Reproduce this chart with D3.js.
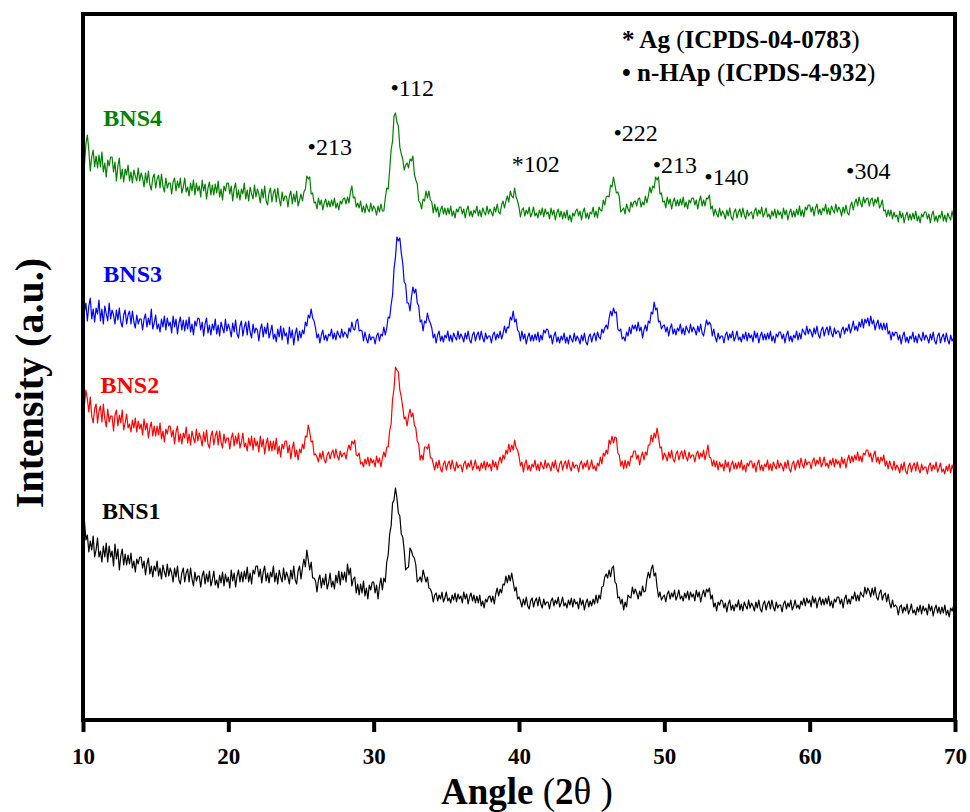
<!DOCTYPE html>
<html>
<head>
<meta charset="utf-8">
<script src="https://cdn.jsdelivr.net/npm/d3@7"></script>
<style>
  html, body { margin: 0; padding: 0; background: #fff; }
  svg { display: block; font-family: "Liberation Serif", "Times New Roman", serif; }
</style>
</head>
<body>
<svg id="chart" width="970" height="812"></svg>
<script>
// ---------- data (one row = one degree, 0.1° steps) ----------
const angleStart = 10, angleStep = 0.1, nPoints = 601;
const angles = d3.range(nPoints).map(i => +(angleStart + i * angleStep).toFixed(1));

const xTicks = [10, 20, 30, 40, 50, 60, 70];
const seriesNames = ["BNS1", "BNS2", "BNS3", "BNS4"];
const seriesColors = ["#000000", "#ff0000", "#0000ff", "#008000"];

const bns4 = [
570,555,576,585,570,549,563,570,553,564,
552,565,553,568,548,557,543,560,554,563,
563,548,558,539,554,562,541,551,538,551,
545,555,539,548,537,550,544,539,552,539,
547,542,533,547,537,549,535,530,542,546,
532,541,545,532,546,534,528,542,532,537,
537,526,538,542,529,539,532,542,527,533,
542,528,533,524,537,529,540,525,537,529,
534,523,540,529,536,521,532,538,525,535,
525,536,527,539,523,531,520,534,529,537,
537,526,534,519,531,537,522,530,520,531,
526,537,521,530,519,533,526,521,535,523,
531,526,517,531,522,534,519,515,527,532,
518,527,531,518,532,521,514,528,519,524,
524,513,524,529,516,526,518,529,514,520,
526,519,528,531,544,541,543,526,527,517,
518,511,522,515,520,510,517,521,513,519,
513,520,514,522,512,517,510,519,516,521,
522,516,523,517,528,534,522,523,513,517,
512,519,508,514,507,516,511,508,517,509,
514,511,505,514,508,516,509,509,522,532,
531,550,570,579,604,607,598,594,573,566,
561,550,555,557,552,561,559,564,546,540,
536,519,517,511,521,519,529,522,529,520,
518,507,516,508,513,503,510,514,506,512,
505,512,506,514,504,509,502,511,508,513,
513,506,511,502,510,514,504,509,503,510,
507,514,504,510,503,512,508,505,514,506,
511,508,504,513,508,516,508,506,515,519,
512,519,524,518,529,524,522,532,523,519,
513,503,510,512,504,510,506,513,503,507,
513,504,507,502,510,505,512,503,511,506,
508,501,512,505,510,500,507,511,503,509,
501,508,502,510,500,505,498,507,504,509,
511,504,509,500,508,512,502,507,501,508,
506,513,503,509,502,513,510,509,520,515,
523,524,523,535,533,543,535,527,528,523,
508,510,512,506,516,511,508,518,513,518,
519,514,521,522,513,518,515,524,517,524,
533,527,534,532,543,540,543,526,527,518,
519,512,523,516,521,511,518,522,514,520,
514,521,515,523,513,518,511,520,517,522,
522,515,520,511,519,524,514,520,514,522,
521,525,511,514,504,511,506,503,512,504,
509,506,501,510,504,512,503,500,508,511,
502,508,511,503,512,505,501,510,504,507,
508,501,509,512,504,510,506,513,503,507,
512,503,506,501,509,504,511,502,510,505,
508,501,512,505,510,500,507,511,503,509,
503,511,505,514,504,510,503,513,510,515,
515,508,513,504,512,516,506,511,505,512,
509,516,506,512,505,514,510,507,516,508,
513,510,504,513,507,515,507,505,514,518,
510,517,521,514,523,517,513,523,517,521,
522,514,520,522,514,521,517,523,512,515,
520,509,510,503,510,504,510,501,508,503,
505,498,509,502,507,497,504,508,500,506,
500,507,501,509,499,504,497,506,503,508,
508,501,506,497,505,509,499,504,498,505,
502,509,499,505,498,507,503,500,509,501,
504];

const bns3 = [
422,408,417,399,414,422,401,411,398,412,
406,420,399,411,396,414,406,399,417,401,
410,405,396,410,400,412,398,393,405,410,
396,405,409,396,409,398,392,405,396,401,
401,390,401,406,393,402,395,411,391,397,
405,391,396,388,401,393,404,390,402,394,
398,387,404,393,401,386,397,403,390,400,
389,400,391,403,388,396,385,399,394,402,
401,390,398,384,396,402,387,395,385,396,
390,401,386,395,384,398,392,387,401,389,
396,391,383,397,388,400,386,382,394,399,
384,393,398,385,399,388,382,396,387,392,
390,379,391,396,383,393,386,397,382,388,
395,381,386,378,391,383,394,380,392,384,
387,376,393,382,390,375,386,392,379,389,
382,390,386,398,394,405,402,411,402,399,
392,382,386,377,385,390,380,385,379,386,
384,391,381,387,380,389,385,382,391,383,
388,386,382,392,388,398,391,390,399,401,
389,390,389,379,388,381,377,386,380,383,
383,376,384,387,379,386,384,393,385,392,
403,402,415,425,451,463,483,479,482,467,
457,438,436,417,417,409,423,433,427,431,
417,414,398,400,389,399,397,407,400,397,
392,382,386,377,385,389,379,384,378,385,
382,389,379,385,378,387,383,380,389,381,
386,383,378,387,381,389,380,377,385,388,
379,385,388,380,389,382,378,387,381,384,
384,377,385,388,380,386,382,389,381,386,
394,387,393,392,403,400,409,398,401,390,
388,379,389,381,386,376,383,387,379,385,
379,386,380,388,378,385,380,390,387,391,
390,382,385,376,384,388,378,383,377,384,
380,387,377,383,376,385,381,378,387,379,
384,381,376,385,379,387,378,375,383,386,
378,384,387,379,388,383,381,391,387,392,
395,391,402,409,404,412,407,408,391,389,
391,381,383,379,388,384,393,386,395,391,
395,389,398,389,393,382,390,395,389,399,
397,408,406,418,410,412,398,399,391,394,
395,388,393,384,392,396,386,391,385,392,
389,396,386,392,385,394,390,387,396,388,
393,390,385,394,388,396,387,384,392,400,
395,398,395,384,391,383,378,387,381,384,
384,377,385,388,380,386,382,389,379,383,
389,380,383,378,386,381,388,379,387,382,
385,378,389,382,387,377,384,388,380,386,
380,387,381,389,379,384,377,386,383,388,
388,381,386,377,385,389,379,384,378,385,
382,389,380,387,381,391,388,385,394,386,
391,388,383,392,386,394,385,382,390,393,
384,390,393,385,394,387,383,392,386,389,
389,382,390,393,386,392,389,396,387,392,
399,390,394,389,398,393,401,392,401,397,
402,394,404,396,400,390,396,400,391,397,
390,397,390,397,386,389,380,388,384,388,
387,380,385,376,384,388,378,383,377,384,
381,388,378,384,377,386,382,379,388,380,
385,382,377,386,380,388,379,376,384,387,
377,383,386,378,387,380,376,385,379,382,
380];

const bns2 = [
322,315,330,321,308,323,304,297,311,316,
297,309,314,298,316,301,293,311,298,304,
304,289,305,310,294,305,297,310,290,297,
306,292,296,288,300,292,302,288,299,291,
296,285,301,290,297,282,292,298,284,294,
284,294,285,297,281,289,278,291,286,294,
294,283,290,276,288,294,278,286,276,287,
282,293,277,286,275,289,282,277,291,279,
287,282,274,288,278,290,276,272,284,289,
275,284,289,275,289,278,272,286,277,282,
282,271,282,287,274,284,276,287,272,278,
287,273,277,269,282,274,284,270,282,274,
279,268,284,273,281,266,276,282,269,279,
269,279,270,282,266,274,263,276,271,279,
279,267,275,261,272,278,263,270,260,271,
267,276,271,284,283,295,288,278,279,265,
266,263,258,267,261,269,260,257,265,268,
261,267,270,262,271,264,260,269,263,266,
267,261,270,275,270,279,276,280,265,264,
267,256,258,253,261,256,263,254,262,257,
260,253,264,257,262,253,262,268,263,273,
273,289,296,321,331,353,350,348,330,323,
313,301,303,294,304,311,303,307,295,292,
279,276,260,265,260,273,273,271,276,262,
262,256,250,258,252,260,251,248,256,259,
250,256,259,251,260,253,249,258,252,255,
255,248,256,259,251,257,253,260,250,254,
260,251,254,249,257,252,259,250,258,253,
256,249,260,253,258,250,258,263,257,265,
261,270,266,276,268,275,270,280,272,270,
264,254,258,248,256,260,250,255,249,256,
253,260,250,256,249,258,254,251,260,252,
257,254,249,258,252,260,251,248,256,259,
250,256,259,251,260,253,249,258,252,255,
255,248,256,259,251,257,253,260,250,254,
260,251,254,249,257,254,263,256,267,264,
270,266,280,276,284,277,283,282,267,265,
254,259,251,260,252,259,254,264,263,269,
269,261,265,255,263,268,260,268,265,275,
275,285,278,287,282,292,283,272,273,260,
267,264,259,268,262,270,261,258,266,269,
260,266,269,261,270,263,259,268,262,265,
265,258,266,269,261,267,263,270,260,267,
275,263,262,254,260,253,259,250,258,253,
256,249,260,253,258,248,255,259,251,257,
251,258,252,260,250,255,248,257,254,259,
259,252,257,248,256,260,250,255,249,256,
253,260,250,256,249,258,254,251,260,252,
257,254,249,258,252,260,251,248,256,259,
250,256,260,252,262,255,252,261,255,258,
258,251,259,262,254,260,256,263,253,257,
263,254,257,252,260,255,262,253,261,256,
259,252,263,256,261,252,260,265,257,264,
258,265,260,268,259,264,258,267,265,270,
270,263,267,258,265,269,258,263,256,263,
259,265,254,259,251,259,254,250,259,250,
255,252,247,256,250,258,249,246,254,257,
248,254,257,249,258,251,247,256,250,253,
253,246,254,257,249,255,251,258,248,252,
257,248,251,246,254,249,256,247,255,250,
250];

const bns1 = [
180,199,180,185,168,179,170,184,163,170,
182,163,169,158,174,163,177,158,174,163,
169,154,176,161,171,150,164,171,155,166,
155,165,156,167,152,159,148,161,156,163,
163,152,159,145,156,162,146,154,143,154,
149,159,144,152,141,155,148,143,156,144,
152,147,138,152,143,154,140,136,147,152,
138,147,151,138,152,141,134,148,139,144,
144,133,144,149,136,146,138,149,134,140,
149,135,140,132,145,137,148,134,146,138,
143,132,150,139,147,133,144,150,138,148,
138,149,141,153,138,147,136,150,146,154,
154,143,151,137,148,154,139,147,137,148,
143,154,138,147,136,150,143,138,152,140,
148,143,136,150,141,154,140,136,149,154,
141,152,161,153,170,160,150,158,142,142,
139,128,140,145,132,142,135,146,131,137,
147,133,139,131,145,137,149,135,148,140,
148,138,156,145,152,134,141,143,127,136,
125,136,127,139,124,132,121,135,130,138,
138,127,135,121,134,142,130,142,138,158,
165,186,194,217,220,232,222,207,204,186,
183,170,150,152,153,172,169,164,162,155,
138,140,143,138,150,144,138,143,132,131,
127,118,125,127,119,125,121,128,118,122,
128,119,122,117,125,120,127,118,126,121,
124,117,128,121,126,116,123,127,119,125,
117,124,117,125,114,119,112,121,118,123,
124,118,124,116,126,132,124,131,127,136,
135,144,137,145,139,147,138,129,133,121,
123,119,113,121,115,123,114,111,119,122,
113,119,122,114,123,116,112,121,115,118,
118,111,119,122,114,120,116,123,113,117,
123,114,117,112,120,115,122,113,121,116,
118,111,122,115,120,110,117,121,113,119,
114,121,116,125,117,125,121,133,134,143,
146,142,150,143,152,154,138,136,122,123,
116,121,110,118,113,125,123,122,133,126,
131,127,121,129,124,134,128,129,141,148,
142,151,155,144,147,133,123,128,120,123,
125,118,126,129,121,127,123,130,120,124,
130,121,124,119,127,122,129,120,128,123,
126,119,130,123,128,118,125,130,123,131,
128,132,121,125,113,117,109,118,115,120,
119,112,117,108,116,120,110,115,109,116,
113,120,110,116,109,118,114,111,120,112,
117,114,109,118,112,120,111,108,116,119,
110,116,119,111,120,113,109,118,112,115,
115,108,116,119,111,117,113,120,110,114,
120,112,115,111,119,115,122,114,122,117,
120,113,124,117,122,112,119,123,115,121,
115,122,116,124,114,119,112,121,118,123,
123,116,121,112,121,125,116,121,116,124,
121,128,119,125,119,128,125,123,133,126,
132,129,123,132,125,133,123,120,127,130,
120,125,127,118,126,117,112,120,113,115,
113,105,113,115,107,113,109,116,106,110,
116,107,110,105,113,108,115,106,114,109,
112,105,116,109,114,104,111,115,107,113,
106,113,107,115,105,110,103,112,109,114,
108];

const seriesValues = [bns1, bns2, bns3, bns4];
// label anchor (angle, intensity) for each series name
const seriesLabelAngles = [11.3, 11.2, 11.4, 11.4];
const seriesLabelLevels = [201, 327, 438, 594];

// peak annotations
const peakLabels  = ["\u2022213", "\u2022112", "*102", "\u2022222", "\u2022213", "\u2022140", "\u2022304"];
const peakAngles  = [25.45, 31.15, 39.5, 46.5, 49.2, 52.75, 62.5];
const peakLevels  = [565, 624, 548, 579, 547, 535, 541];

// ---------- drawing ----------
const svg = d3.select("#chart");
const margin = { left: 83, right: 955, top: 14, bottom: 720 };

const x = d3.scaleLinear().domain([10, 70]).range([margin.left, margin.right]);
const y = d3.scaleLinear().domain([0, 706]).range([margin.bottom, margin.top]);

const line = d3.line()
  .x((d, i) => x(angles[i]))
  .y(d => y(d));

svg.append("g").selectAll("path")
  .data(seriesValues)
  .join("path")
  .attr("d", d => line(d))
  .attr("fill", "none")
  .attr("stroke", (d, i) => seriesColors[i])
  .attr("stroke-width", 1.2)
  .attr("stroke-linejoin", "round");

// frame
svg.append("rect")
  .attr("x", margin.left).attr("y", margin.top)
  .attr("width", margin.right - margin.left)
  .attr("height", margin.bottom - margin.top)
  .attr("fill", "none").attr("stroke", "#000").attr("stroke-width", 4);

// x axis
const xAxis = svg.append("g")
  .attr("transform", `translate(0,${margin.bottom})`)
  .call(d3.axisBottom(x).tickValues(xTicks).tickSize(12).tickPadding(16).tickFormat(d3.format("d")));
xAxis.select(".domain").remove();
xAxis.selectAll(".tick line").attr("stroke", "#000").attr("stroke-width", 4);
xAxis.selectAll(".tick text")
  .attr("font-family", "'Liberation Serif', 'Times New Roman', serif")
  .attr("font-size", 23).attr("font-weight", "bold").attr("fill", "#000");

// x title
const xt = svg.append("text")
  .attr("x", 441).attr("y", 804)
  .attr("font-size", 37).attr("fill", "#000");
xt.append("tspan").attr("font-weight", "bold").text("Angle ");
xt.append("tspan").text("(");
xt.append("tspan").attr("font-weight", "bold").text("2");
xt.append("tspan").text("\u03B8 )");

// y title
svg.append("text")
  .attr("transform", "translate(43,383) rotate(-90)")
  .attr("text-anchor", "middle")
  .attr("font-size", 40).attr("font-weight", "bold").attr("fill", "#000")
  .text("Intensity (a.u.)");

// series labels
svg.append("g").selectAll("text")
  .data(seriesNames)
  .join("text")
  .attr("x", (d, i) => x(seriesLabelAngles[i]))
  .attr("y", (d, i) => y(seriesLabelLevels[i]))
  .attr("font-size", 24).attr("font-weight", "bold")
  .attr("fill", (d, i) => seriesColors[i])
  .text(d => d);

// peak annotations
svg.append("g").selectAll("text")
  .data(peakLabels)
  .join("text")
  .attr("x", (d, i) => x(peakAngles[i]))
  .attr("y", (d, i) => y(peakLevels[i]))
  .attr("font-size", 24).attr("fill", "#000")
  .text(d => d);

// legend
const lg1 = svg.append("text").attr("x", 622).attr("y", 48).attr("font-size", 25).attr("fill", "#000");
lg1.append("tspan").attr("font-weight", "bold").text("* Ag ");
lg1.append("tspan").text("(");
lg1.append("tspan").attr("font-weight", "bold").text("ICPDS-04-0783");
lg1.append("tspan").text(")");

const lg2 = svg.append("text").attr("x", 622).attr("y", 81).attr("font-size", 25).attr("fill", "#000");
lg2.append("tspan").attr("font-weight", "bold").text("\u2022 n-HAp ");
lg2.append("tspan").text("(");
lg2.append("tspan").attr("font-weight", "bold").text("ICPDS-4-932");
lg2.append("tspan").text(")");
</script>
</body>
</html>
